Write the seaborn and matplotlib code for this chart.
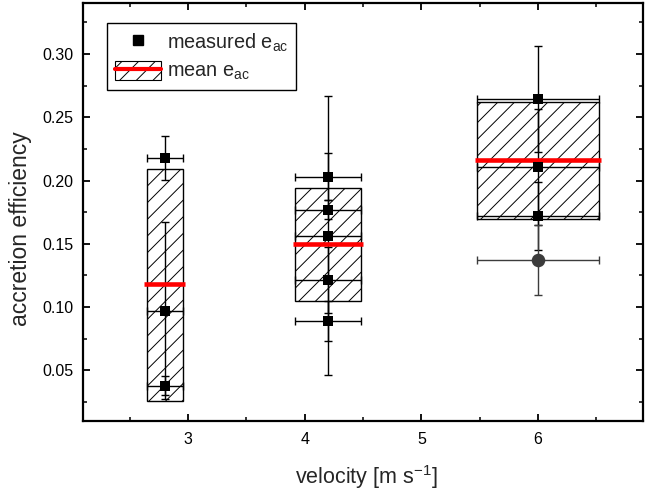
import numpy as np
import pandas as pd
import matplotlib
matplotlib.use("Agg")
import matplotlib.pyplot as plt
import seaborn as sns
from matplotlib.lines import Line2D
from matplotlib.patches import Patch
from matplotlib.legend_handler import HandlerTuple
from matplotlib.ticker import MultipleLocator, FormatStrFormatter

# ---- data ----
meas_x = [2.8, 2.8, 2.8, 4.2, 4.2, 4.2, 4.2, 4.2, 6.0, 6.0, 6.0]
meas_y = [0.218, 0.097, 0.038, 0.203, 0.177, 0.1565, 0.1215, 0.089, 0.2647, 0.2106, 0.1721]
meas_yerr = [0.0175, 0.070, 0.0075, 0.0185, 0.0075, 0.1105, 0.026, 0.016, 0.042, 0.046, 0.027]
meas_xerr = [0.155, 0.155, 0.155, 0.28, 0.28, 0.28, 0.28, 0.28, 0.52, 0.52, 0.52]

extra_x = [6.0]
extra_y = [0.1373]
extra_yerr = [0.0274]
extra_xerr = [0.52]

group_x = [2.8, 4.2, 6.0]
group_halfwidth = [0.155, 0.28, 0.52]
mean_y = [0.118, 0.1497, 0.2159]
box_bottom = [0.026, 0.1045, 0.1695]
box_top = [0.2095, 0.1945, 0.2622]

x_ticks = [3, 4, 5, 6]
y_ticks = [0.05, 0.10, 0.15, 0.20, 0.25, 0.30]

sns.set_theme(style="ticks")
plt.rcParams["font.family"] = ["Liberation Sans", "DejaVu Sans"]
plt.rcParams["mathtext.fontset"] = "custom"
plt.rcParams["mathtext.rm"] = "Liberation Sans"
plt.rcParams["hatch.linewidth"] = 0.7

fig = plt.figure(figsize=(6.45, 4.91), dpi=100)
ax = fig.add_axes([0.129, 0.1426, 0.868, 0.8504])

# hatched boxes
ax.bar(group_x, [t - b for t, b in zip(box_top, box_bottom)], bottom=box_bottom,
       width=[2 * w for w in group_halfwidth], facecolor="white", edgecolor="black",
       hatch="//", linewidth=1.0, zorder=1)

# error bars
ax.errorbar(meas_x, meas_y, yerr=meas_yerr, xerr=meas_xerr, fmt="none",
            ecolor="black", elinewidth=1.0, capsize=2.8, capthick=1.0, zorder=2)
ax.errorbar(extra_x, extra_y, yerr=extra_yerr, xerr=extra_xerr, fmt="none",
            ecolor="#3c3c3c", elinewidth=1.0, capsize=2.8, capthick=1.0, zorder=2)

# mean lines
ax.hlines(mean_y, [x - w - 0.02 for x, w in zip(group_x, group_halfwidth)],
          [x + w + 0.02 for x, w in zip(group_x, group_halfwidth)],
          colors="#ff0000", linewidth=3.3, zorder=3)

# points
df = pd.DataFrame({"velocity": meas_x, "eff": meas_y})
sns.scatterplot(data=df, x="velocity", y="eff", marker="s", s=45, color="black",
                edgecolor="black", linewidth=0, ax=ax, zorder=4)
df2 = pd.DataFrame({"velocity": extra_x, "eff": extra_y})
sns.scatterplot(data=df2, x="velocity", y="eff", marker="o", s=95, color="#3c3c3c",
                edgecolor="#3c3c3c", linewidth=0, ax=ax, zorder=4)

ax.set_xlim(2.1, 6.9)
ax.set_ylim(0.01, 0.34)
ax.set_xticks(x_ticks)
ax.set_yticks(y_ticks)
ax.yaxis.set_major_formatter(FormatStrFormatter("%.2f"))
ax.xaxis.set_minor_locator(MultipleLocator(0.5))
ax.yaxis.set_minor_locator(MultipleLocator(0.025))
ax.tick_params(which="both", direction="in", top=True, right=True, colors="black",
               labelsize=11.5)
ax.tick_params(which="major", length=5, width=1.3)
ax.tick_params(which="minor", length=3, width=1.1)
ax.tick_params(axis="x", pad=8)
ax.tick_params(axis="y", pad=7)
for sp in ax.spines.values():
    sp.set_linewidth(1.6)
    sp.set_color("black")

ax.set_xlabel("velocity [m s$^\\mathregular{-1}$]", fontsize=15.5)
ax.set_ylabel("accretion efficiency", fontsize=16.5)
ax.xaxis.set_label_coords(0.505, -0.1)
ax.yaxis.set_label_coords(-0.092, 0.461)

h1 = Line2D([], [], marker="s", color="black", linestyle="none", markersize=6.5)
h2p = Patch(facecolor="white", edgecolor="black", hatch="//", linewidth=0.8)
h2l = Line2D([], [], color="#ff0000", linewidth=3)
leg = ax.legend([h1, (h2p, h2l)], ["measured e$_\\mathregular{ac}$", "mean e$_\\mathregular{ac}$"],
                handler_map={tuple: HandlerTuple(ndivide=1, pad=0)},
                loc="upper left", bbox_to_anchor=(0.043, 0.952), borderaxespad=0,
                fontsize=14.3, frameon=True, fancybox=False, edgecolor="black",
                framealpha=1, handlelength=2.3, handleheight=1.1, borderpad=0.4,
                labelspacing=0.35, handletextpad=0.3)
leg.get_frame().set_linewidth(1.0)

fig.savefig("out.png", dpi=100)
